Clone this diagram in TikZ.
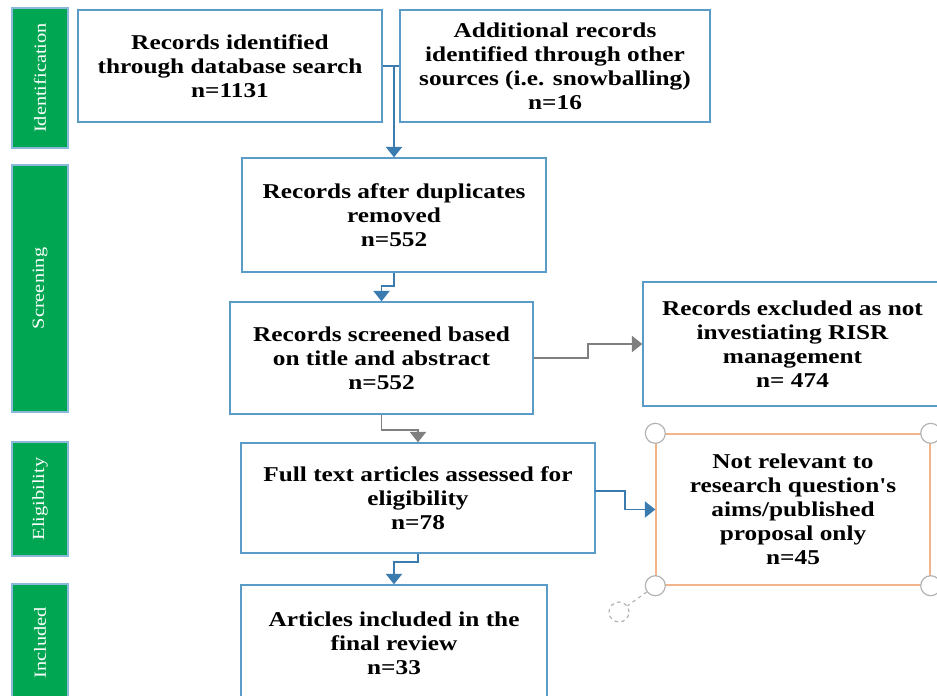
\documentclass[tikz,border=0pt]{standalone}
\usepackage{fontspec}
\setmainfont{Liberation Serif}
\newfontfamily\boxfont[FakeStretch=1.2]{Liberation Serif}
\newfontfamily\barfont[FakeStretch=1.2]{Liberation Serif}
\usetikzlibrary{positioning,calc,arrows.meta}
\newcommand{\pxu}{0.03cm}
\definecolor{boxblue}{HTML}{5B9BC8}
\definecolor{arrowblue}{HTML}{3A7CB0}
\definecolor{arrowgray}{HTML}{7F7F7F}
\definecolor{stagegreen}{HTML}{00A651}
\definecolor{notrelorange}{HTML}{F2B48A}
\tikzstyle{block} = [draw=boxblue, line width=1.2pt, rectangle, fill=white, align=center, inner sep=2pt, font=\boxfont\bfseries\fontsize{18}{20.5}\selectfont]
\tikzstyle{stage} = [draw=boxblue!70, line width=1pt, rectangle, fill=stagegreen, text=white, rotate=90, minimum height=56*\pxu, font=\barfont\fontsize{14.5}{16}\selectfont]
\tikzstyle{bluelink} = [draw=arrowblue, line width=1.2pt]
\tikzstyle{graylink} = [draw=arrowgray, line width=1.2pt]
\tikzstyle{handle} = [draw=black!30, line width=1pt, circle, fill=white, minimum size=20*\pxu, inner sep=0pt]

\begin{document}
\begin{tikzpicture}[x=\pxu, y=-\pxu, >={Triangle[width=14pt,length=9pt]}]
		\useasboundingbox (0,0) rectangle (937,695);

		% stage bars
		\node[stage, minimum width=140*\pxu] (ident) at (40,78) {Identification};
		\node[stage, minimum width=247*\pxu] (screen) at (40,288.5) {Screening};
		\node[stage, minimum width=114*\pxu] (elig) at (40,499) {Eligibility};
		\node[stage, minimum width=118*\pxu] (incl) at (40,643) {Included};

		% identification
		\node[block, minimum width=304*\pxu, minimum height=112*\pxu] (dbsearch) at (230,66) {Records identified\\through database search\\n=1131};
		\node[block, minimum width=310*\pxu, minimum height=112*\pxu] (other) at (555,66) {Additional records\\identified through other\\sources (i.e. snowballing)\\n=16};

		% screening
		\node[block, minimum width=304*\pxu, minimum height=114*\pxu] (dup) at (394,215) {Records after duplicates\\removed\\n=552};
		\node[block, minimum width=303*\pxu, minimum height=112*\pxu] (screened) at (381.5,358) {Records screened based\\on title and abstract\\n=552};
		\node[block, minimum width=299*\pxu, minimum height=124*\pxu] (excluded) at (792.5,344) {Records excluded as not\\investiating RISR\\management\\n= 474};

		% eligibility
		\node[block, minimum width=354*\pxu, minimum height=110*\pxu] (fulltext) at (418,498) {Full text articles assessed for\\eligibility\\n=78};
		\node[block, draw=notrelorange, minimum width=274*\pxu, minimum height=151*\pxu] (notrel) at (793,509.5) {Not relevant to\\research question's\\aims/published\\proposal only\\n=45};

		% included
		\node[block, minimum width=306*\pxu, minimum height=117*\pxu] (included) at (394,643.5) {Articles included in the\\final review\\n=33};

		% join sources to dup
		\node[coordinate] (srcjoin) at (394,66) {};
		\draw[bluelink] (dbsearch.east) -- (other.west);
		\draw[bluelink,->] (srcjoin) -- (dup.north);

		% join dup to screened
		\node[coordinate] (dupmid0) at (394,286) {};
		\node[coordinate] (dupmid1) at (381.5,286) {};
		\draw[bluelink,->] (dup.south) -- (dupmid0) -- (dupmid1) -- (screened.north);

		% join screened to excluded and fulltext
		\node[coordinate] (exmid0) at (588,358) {};
		\node[coordinate] (exmid1) at (588,344) {};
		\draw[graylink,->] (screened.east) -- (exmid0) -- (exmid1) -- (excluded.west);
		\node[coordinate] (ftmid0) at (381.5,430) {};
		\node[coordinate] (ftmid1) at (418,430) {};
		\draw[graylink,->] (screened.south) -- (ftmid0) -- (ftmid1) -- (fulltext.north);

		% join fulltext to notrel and included
		\node[coordinate] (ftpin) at (595,491) {};
		\node[coordinate] (nrmid0) at (625,491) {};
		\node[coordinate] (nrmid1) at (625,509.5) {};
		\draw[bluelink,->] (ftpin) -- (nrmid0) -- (nrmid1) -- (notrel.west);
		\node[coordinate] (inmid0) at (418,562) {};
		\node[coordinate] (inmid1) at (394,562) {};
		\draw[bluelink,->] (fulltext.south) -- (inmid0) -- (inmid1) -- (included.north);

		% selection handles
		\node[handle] (hnw) at (notrel.north west) {};
		\node[handle] (hne) at (notrel.north east) {};
		\node[handle] (hsw) at (notrel.south west) {};
		\node[handle] (hse) at (notrel.south east) {};
		\node[handle, dashed] (hrot) at (619,612) {};
		\draw[black!30, line width=1pt, dashed] (hsw) -- (hrot);
	\end{tikzpicture}
\end{document}
